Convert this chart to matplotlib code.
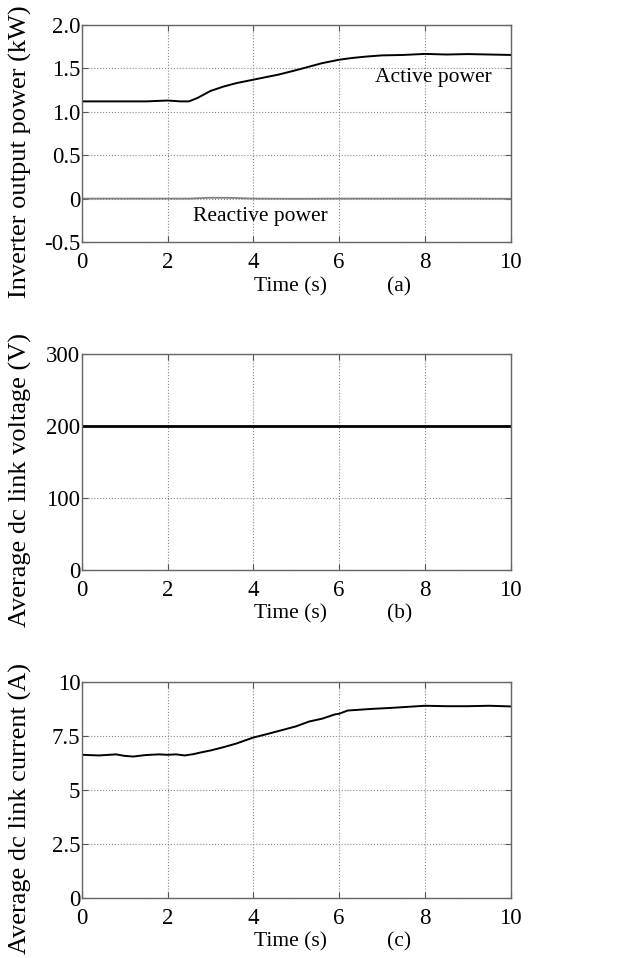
import matplotlib
matplotlib.use('Agg')
import matplotlib.pyplot as plt

plt.rcParams['font.family'] = 'Liberation Serif'
plt.rcParams['font.size'] = 16.5

# (a) inverter output power
t_p = [0, 0.5, 1.0, 1.5, 2.0, 2.3, 2.5, 2.7, 3.0, 3.3, 3.6, 4.0, 4.3, 4.6, 5.0, 5.3, 5.6, 6.0, 6.3, 6.6,
       7.0, 7.5, 8.0, 8.5, 9.0, 9.5, 10.0]
p_active = [1.12, 1.12, 1.12, 1.12, 1.13, 1.12, 1.12, 1.16, 1.24, 1.29, 1.33, 1.37, 1.40, 1.43, 1.48, 1.52, 1.56,
            1.60, 1.62, 1.635, 1.65, 1.655, 1.667, 1.66, 1.665, 1.66, 1.655]
t_q = [0, 1.0, 2.0, 2.5, 3.0, 3.5, 4.0, 5.0, 6.0, 7.0, 8.0, 9.0, 10.0]
p_reactive = [0.0, 0.0, 0.0, 0.0, 0.01, 0.008, 0.0, -0.002, 0.0, 0.0, 0.0, 0.0, -0.002]

# (b) dc link voltage
t_v = [0, 10]
v_dc = [200, 200]

# (c) dc link current
t_i = [0, 0.4, 0.8, 1.0, 1.2, 1.5, 1.8, 2.0, 2.2, 2.4, 2.6, 2.8, 3.0, 3.3, 3.6, 4.0, 4.3, 4.7, 5.0, 5.3,
       5.6, 5.9, 6.0, 6.2, 6.5, 6.8, 7.2, 7.6, 8.0, 8.5, 9.0, 9.5, 10.0]
i_dc = [6.63, 6.6, 6.65, 6.58, 6.55, 6.62, 6.65, 6.63, 6.65, 6.6, 6.66, 6.75, 6.83, 6.98, 7.15, 7.43, 7.58, 7.79,
        7.95, 8.17, 8.3, 8.5, 8.53, 8.68, 8.72, 8.76, 8.8, 8.85, 8.9, 8.88, 8.88, 8.9, 8.87]

fig = plt.figure(figsize=(6.44, 9.58), dpi=100)
left, width = 0.127, 0.666
ax_a = fig.add_axes([left, 0.7474, width, 0.2265])
ax_b = fig.add_axes([left, 0.405, width, 0.2255])
ax_c = fig.add_axes([left, 0.0626, width, 0.2255])


def style(ax, yticks, ylabels, ylim, ylab, tag):
    ax.set_xlim(0, 10)
    ax.set_ylim(*ylim)
    ax.set_xticks([0, 2, 4, 6, 8, 10])
    ax.set_yticks(yticks)
    ax.set_yticklabels(ylabels)
    ax.tick_params(direction='in', top=True, right=True, length=4, color='#555555')
    ax.tick_params(axis='x', pad=7)
    ax.tick_params(axis='y', pad=1)
    ax.grid(True, linestyle=':', color='#888888', linewidth=0.8)
    for s in ax.spines.values():
        s.set_color('#666666')
        s.set_linewidth(1.0)
    ax.set_ylabel(ylab, fontsize=19)
    ax.yaxis.set_label_coords(-0.115, 0.415)
    ax.text(0.487, -0.205, 'Time (s)', transform=ax.transAxes, ha='center', va='center', fontsize=15.5)
    ax.text(0.74, -0.205, tag, transform=ax.transAxes, ha='center', va='center', fontsize=15.5)


ax_a.plot(t_q, p_reactive, color='#808080', linewidth=1.3)
ax_a.plot(t_p, p_active, color='black', linewidth=1.4)
ax_a.text(6.83, 1.40, 'Active power', ha='left', va='center', fontsize=15.5)
ax_a.text(2.59, -0.21, 'Reactive power', ha='left', va='center', fontsize=15.5)
style(ax_a, [-0.5, 0, 0.5, 1.0, 1.5, 2.0], ['-0.5', '0', '0.5', '1.0', '1.5', '2.0'], (-0.5, 2.0),
      'Inverter output power (kW)', '(a)')

ax_b.plot(t_v, v_dc, color='black', linewidth=2)
style(ax_b, [0, 100, 200, 300], ['0', '100', '200', '300'], (0, 300),
      'Average dc link voltage (V)', '(b)')

ax_c.plot(t_i, i_dc, color='black', linewidth=1.4)
style(ax_c, [0, 2.5, 5, 7.5, 10], ['0', '2.5', '5', '7.5', '10'], (0, 10),
      'Average dc link current (A)', '(c)')

fig.savefig('out.png', dpi=100)
